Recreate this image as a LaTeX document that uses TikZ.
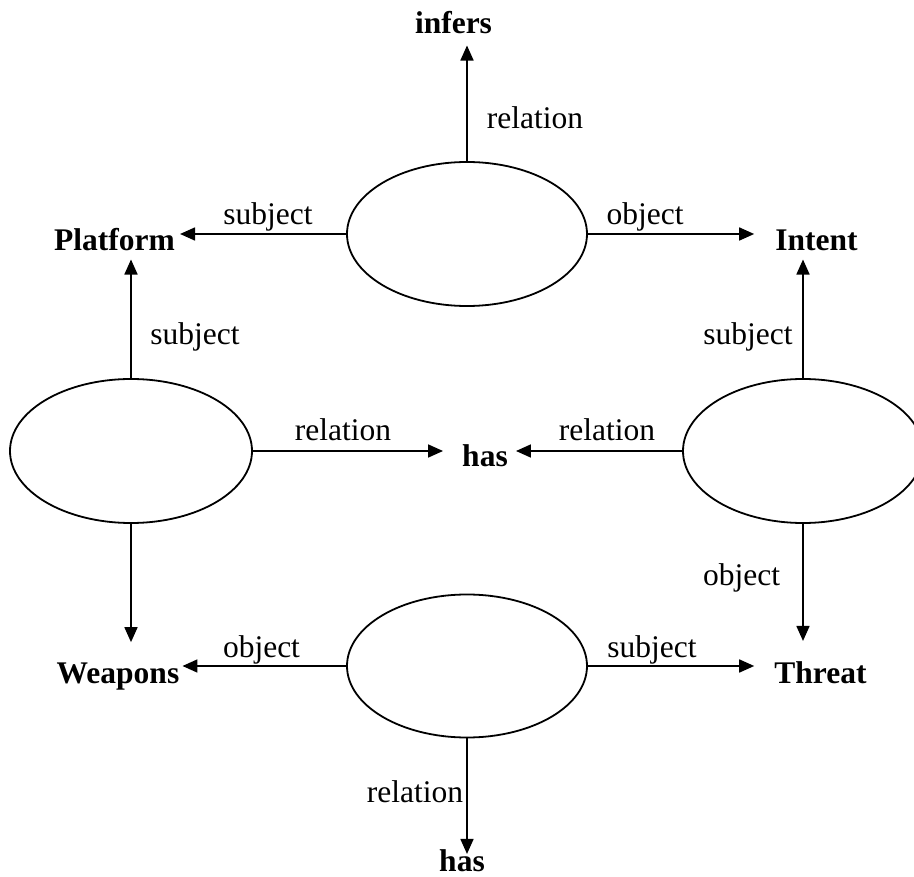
\documentclass[tikz,border=0pt]{standalone}
\usepackage{fontspec}
\setmainfont{Liberation Serif}
\usetikzlibrary{arrows.meta,shapes.geometric}
\begin{document}
\begin{tikzpicture}[x=1pt,y=-1pt,
  every node/.style={font=\fontsize{31.5}{36}\selectfont},
  rel/.style={draw,ellipse,line width=1.8pt,minimum width=240pt,minimum height=144pt,inner sep=0pt},
  term/.style={inner sep=0pt,anchor=base,font=\fontsize{31.5}{36}\selectfont\bfseries},
  lbl/.style={inner sep=0pt,anchor=base},
  conn/.style={line width=1.7pt,-{Triangle[length=15pt,width=13pt]}}]
\useasboundingbox (0,0) rectangle (914,877);
% ellipses
\node[rel] (T) at (467,234) {};
\node[rel,minimum width=242pt] (L) at (131,451) {};
\node[rel] (R) at (803,451) {};
\node[rel,minimum height=143pt] (B) at (467,666) {};
% terms
\node[term] (infers) at (453.5,34) {infers};
\node[term] (platform) at (114.5,251) {Platform};
\node[term] (intent) at (816.5,251) {Intent};
\node[term] (has) at (485,467) {has};
\node[term] (weapons) at (118,683) {Weapons};
\node[term] (threat) at (820.5,683) {Threat};
\node[term] (hasb) at (462,871) {has};
% labels
\node[lbl] (l1) at (535,129) {relation};
\node[lbl] (l2) at (268,225) {subject};
\node[lbl] (l3) at (645,225) {object};
\node[lbl] (l4) at (195,345) {subject};
\node[lbl] (l5) at (748,345) {subject};
\node[lbl] (l6) at (343,441) {relation};
\node[lbl] (l7) at (607,441) {relation};
\node[lbl] (l8) at (741.5,585) {object};
\node[lbl] (l9) at (261.5,657) {object};
\node[lbl] (l10) at (652,657) {subject};
\node[lbl] (l11) at (415,802) {relation};
% connectors
\draw[conn,shorten >=11pt] (T.north) -- (T.north |- infers.south);
\draw[conn,shorten >=5pt] (T.west) -- (T.west -| platform.east);
\draw[conn,shorten >=21pt] (T.east) -- (T.east -| intent.west);
\draw[conn,shorten >=8pt] (L.north) -- (L.north |- platform.south);
\draw[conn,shorten >=20pt] (L.south) -- (L.south |- weapons.north);
\draw[conn,shorten >=19pt] (L.east) -- (L.east -| has.west);
\draw[conn,shorten >=8pt] (R.west) -- (R.west -| has.east);
\draw[conn,shorten >=8pt] (R.north) -- (R.north |- intent.south);
\draw[conn,shorten >=20pt] (R.south) -- (R.south |- threat.north);
\draw[conn,shorten >=3pt] (B.west) -- (B.west -| weapons.east);
\draw[conn,shorten >=20pt] (B.east) -- (B.east -| threat.west);
\draw[conn,shorten >=-5pt] (B.south) -- (B.south |- hasb.north);
\end{tikzpicture}
\end{document}
